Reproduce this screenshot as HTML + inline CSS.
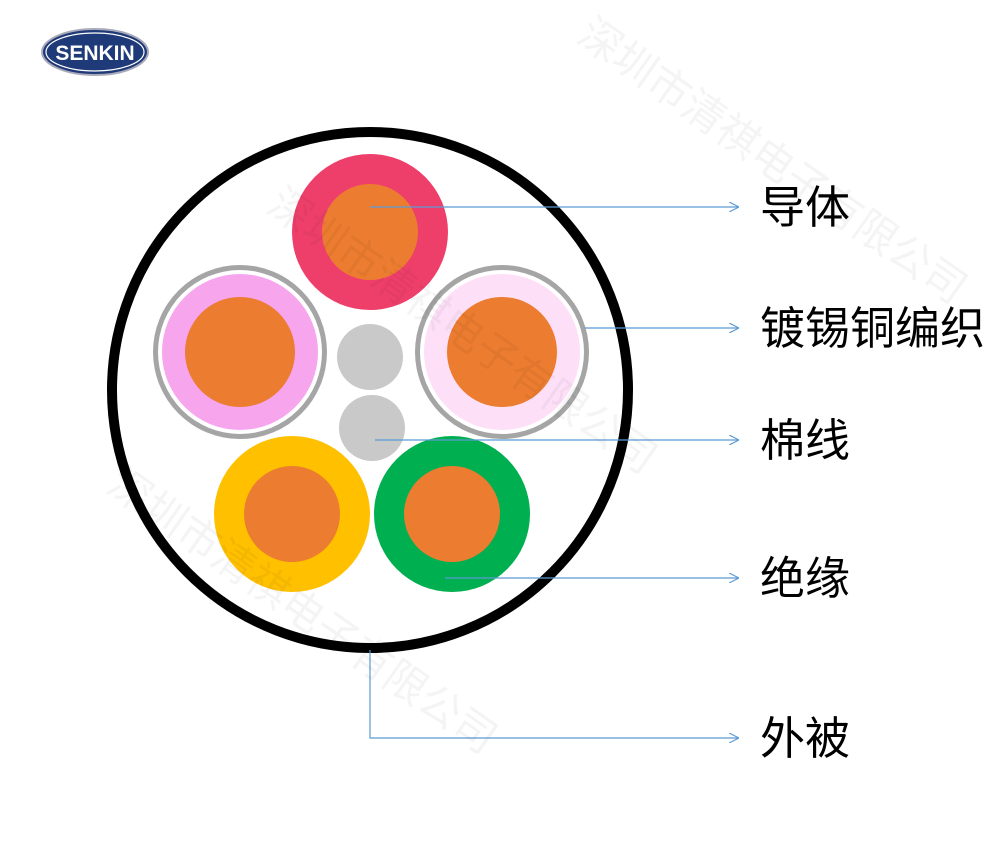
<!DOCTYPE html>
<html><head><meta charset="utf-8"><style>
body{margin:0;background:#fff;width:1000px;height:850px;overflow:hidden}
svg{display:block}
text{font-family:"Liberation Sans","Noto Sans CJK SC",sans-serif}
</style></head><body>
<svg width="1000" height="850" viewBox="0 0 1000 850">
<defs><marker id="a" markerWidth="10" markerHeight="10" refX="9" refY="5" orient="auto" markerUnits="userSpaceOnUse"><path d="M0,0 L10,5 L0,10" fill="none" stroke="#5b9bd5" stroke-width="1.2"/></marker></defs>
<ellipse cx="95" cy="52" rx="53" ry="23" fill="#1f3a78" stroke="#aab" stroke-width="2"/>
<ellipse cx="95" cy="52" rx="49" ry="19" fill="none" stroke="#fff" stroke-width="1.2"/>
<text x="95" y="60" font-size="21" font-weight="bold" fill="#fff" text-anchor="middle">SENKIN</text>
<circle cx="370" cy="390" r="258" fill="#fff" stroke="#000" stroke-width="10"/>
<circle cx="370" cy="232" r="78" fill="#ee3f6a"/><circle cx="370" cy="232" r="48" fill="#ec7c30"/>
<circle cx="240" cy="352" r="87" fill="#a5a5a5"/><circle cx="240" cy="352" r="82" fill="#fff"/><circle cx="240" cy="352" r="78" fill="#f7a6ee"/><circle cx="240" cy="352" r="55" fill="#ec7c30"/>
<circle cx="502" cy="352" r="87" fill="#a5a5a5"/><circle cx="502" cy="352" r="82" fill="#fff"/><circle cx="502" cy="352" r="78" fill="#fde0f8"/><circle cx="502" cy="352" r="55" fill="#ec7c30"/>
<circle cx="370" cy="357" r="33" fill="#c9c9c9"/><circle cx="372" cy="428" r="33" fill="#c9c9c9"/>
<circle cx="292" cy="514" r="78" fill="#ffc000"/><circle cx="292" cy="514" r="48" fill="#ec7c30"/>
<circle cx="452" cy="514" r="78" fill="#00b050"/><circle cx="452" cy="514" r="48" fill="#ec7c30"/>
<g stroke="#5b9bd5" stroke-width="1.2" fill="none" marker-end="url(#a)">
<path d="M370,207H738"/><path d="M585,328H738"/><path d="M375,440H738"/><path d="M445,578H738"/><path d="M370,650V738H738"/>
</g>
<g font-size="45" fill="#000">
<text x="760" y="223">导体</text><text x="760" y="344">镀锡铜编织</text><text x="760" y="456">棉线</text><text x="760" y="594">绝缘</text><text x="760" y="754">外被</text>
</g>
<g fill="#000" opacity="0.045" font-size="42">
<text transform="translate(575,40) rotate(35)">深圳市清祺电子有限公司</text>
<text transform="translate(265,210) rotate(35)">深圳市清祺电子有限公司</text>
<text transform="translate(105,490) rotate(35)">深圳市清祺电子有限公司</text>
</g>
</svg>
</body></html>
